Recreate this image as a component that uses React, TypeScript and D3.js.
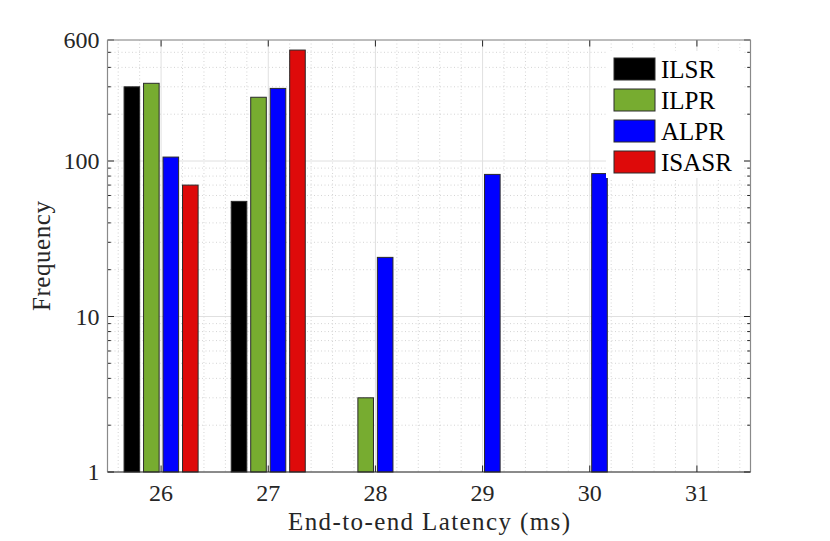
import * as d3 from "d3";

const latencies = [26, 27, 28, 29, 30, 31];
const seriesNames = ["ILSR", "ILPR", "ALPR", "ISASR"];
const seriesColors = ["#000000", "#77ac30", "#0000ff", "#de0a0a"];
const ilsr = [300, 55, 0, 0, 0, 0];
const ilpr = [316, 257, 3, 0, 0, 0];
const alpr = [106, 293, 24, 82, 83, 0];
const isasr = [70, 517, 0, 0, 0, 0];
const yTicks = [1, 10, 100, 600];

const seriesValues = [ilsr, ilpr, alpr, isasr];

const width = 830;
const height = 541;
const plot = { left: 107.5, right: 750.5, top: 40, bottom: 472 };
const font = "'Liberation Serif', 'Times New Roman', serif";

export default function App() {
  const x = d3.scaleLinear().domain([25.5, 31.5]).range([plot.left, plot.right]);
  const y = d3.scaleLog().domain([1, 600]).range([plot.bottom, plot.top]);

  const n = seriesNames.length;
  const groupWidth = Math.min(0.8, n / (n + 1.5));
  const step = groupWidth / n;
  const barWidth = 0.8 * step;

  const xMinor = d3.range(25.6, 31.5, 0.2).filter((t) => Math.abs(t - Math.round(t)) > 0.01);
  const yMinor: number[] = [];
  [1, 10, 100].forEach((dec) => {
    for (let k = 2; k <= 9; k++) if (dec * k < 600) yMinor.push(dec * k);
  });

  const majorLen = 6.5;
  const minorLen = 3.3;

  return (
    <svg
      width={width}
      height={height}
      viewBox={`0 0 ${width} ${height}`}
      style={{ position: "absolute", left: 0, top: 0, background: "#fff" }}
      fontFamily={font}
    >
      <rect x={0} y={0} width={width} height={height} fill="#fff" />
      {/* minor grid */}
      {xMinor.map((t) => (
        <line key={`xm${t}`} x1={x(t)} x2={x(t)} y1={plot.top} y2={plot.bottom} stroke="#c9c9c9" strokeWidth={0.8} strokeDasharray="1 2.5" />
      ))}
      {yMinor.map((t) => (
        <line key={`ym${t}`} x1={plot.left} x2={plot.right} y1={y(t)} y2={y(t)} stroke="#c9c9c9" strokeWidth={0.8} strokeDasharray="1 2.5" />
      ))}
      {/* major grid */}
      {latencies.map((t) => (
        <line key={`xg${t}`} x1={x(t)} x2={x(t)} y1={plot.top} y2={plot.bottom} stroke="#e0e0e0" strokeWidth={1} />
      ))}
      {yTicks.map((t) => (
        <line key={`yg${t}`} x1={plot.left} x2={plot.right} y1={y(t)} y2={y(t)} stroke="#e0e0e0" strokeWidth={1} />
      ))}
      {/* bars */}
      {seriesValues.map((values, si) => (
        <g key={seriesNames[si]}>
          {values.map((v, ci) => {
            if (v <= 0) return null;
            const center = latencies[ci] + (si - (n - 1) / 2) * step;
            const x0 = x(center - barWidth / 2);
            const x1 = x(center + barWidth / 2);
            return (
              <rect
                key={ci}
                x={x0}
                y={y(v)}
                width={x1 - x0}
                height={y(1) - y(v)}
                fill={seriesColors[si]}
                stroke="#2b2b2b"
                strokeWidth={1}
              />
            );
          })}
        </g>
      ))}
      {/* ticks */}
      {latencies.map((t) => (
        <g key={`xt${t}`}>
          <line x1={x(t)} x2={x(t)} y1={plot.bottom} y2={plot.bottom - majorLen} stroke="#262626" />
          <line x1={x(t)} x2={x(t)} y1={plot.top} y2={plot.top + majorLen} stroke="#262626" />
          <text x={x(t)} y={501} textAnchor="middle" fontSize={24} fill="#262626">
            {t}
          </text>
        </g>
      ))}
      {yTicks.map((t) => (
        <g key={`yt${t}`}>
          <line x1={plot.left} x2={plot.left + majorLen} y1={y(t)} y2={y(t)} stroke="#262626" />
          <line x1={plot.right} x2={plot.right - majorLen} y1={y(t)} y2={y(t)} stroke="#262626" />
          <text x={plot.left - 8} y={y(t)} dy="0.34em" textAnchor="end" fontSize={24} fill="#262626">
            {t}
          </text>
        </g>
      ))}
      {yMinor.map((t) => (
        <g key={`ymt${t}`}>
          <line x1={plot.left} x2={plot.left + minorLen} y1={y(t)} y2={y(t)} stroke="#262626" />
          <line x1={plot.right} x2={plot.right - minorLen} y1={y(t)} y2={y(t)} stroke="#262626" />
        </g>
      ))}
      {/* axes box */}
      <line x1={plot.left} x2={plot.right} y1={plot.top} y2={plot.top} stroke="#8a8a8a" strokeWidth={1.2} />
      <line x1={plot.left} x2={plot.left} y1={plot.top} y2={plot.bottom} stroke="#8a8a8a" strokeWidth={1.2} />
      <line x1={plot.right} x2={plot.right} y1={plot.top} y2={plot.bottom} stroke="#8a8a8a" strokeWidth={1.2} />
      <line x1={plot.left} x2={plot.right} y1={plot.bottom} y2={plot.bottom} stroke="#262626" strokeWidth={1.2} />
      {/* legend */}
      <rect x={606} y={51} width={138} height={127} fill="#fff" />
      {seriesNames.map((name, i) => (
        <g key={name} transform={`translate(614, ${58 + i * 31})`}>
          <rect width={41} height={22} fill={seriesColors[i]} stroke="#2b2b2b" strokeWidth={1} />
          <text x={47} y={11} dy="0.34em" fontSize={25} fill="#000">
            {name}
          </text>
        </g>
      ))}
      {/* axis labels */}
      <text x={(plot.left + plot.right) / 2} y={530} textAnchor="middle" fontSize={25} fill="#262626" textLength={282} lengthAdjust="spacing">
        End-to-end Latency (ms)
      </text>
      <text transform={`translate(50, ${(plot.top + plot.bottom) / 2}) rotate(-90)`} textAnchor="middle" fontSize={25} fill="#262626" textLength={110} lengthAdjust="spacing">
        Frequency
      </text>
    </svg>
  );
}
